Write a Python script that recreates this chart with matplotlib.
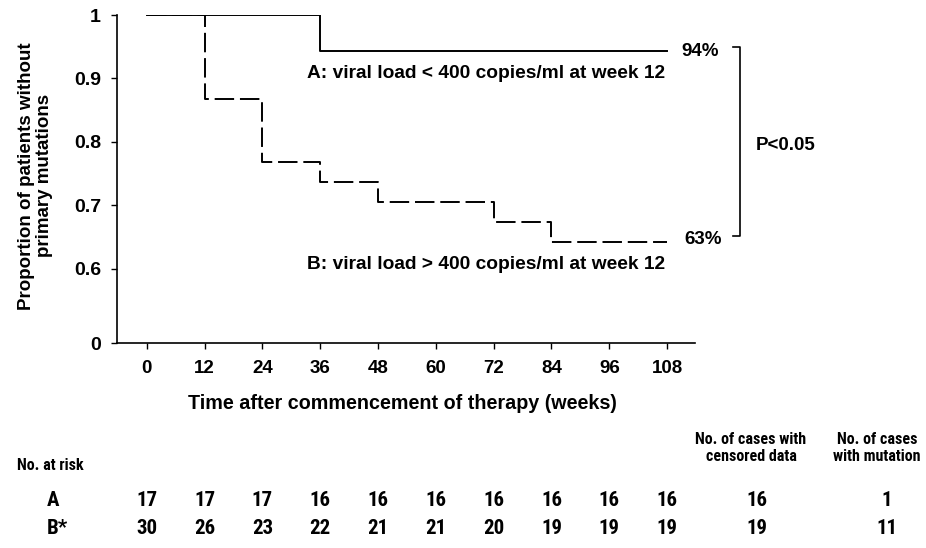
import matplotlib
matplotlib.use("Agg")
import matplotlib.pyplot as plt
from matplotlib import font_manager
import numpy as np

plt.rcParams['font.family'] = ['Liberation Sans', 'DejaVu Sans']
plt.rcParams['font.weight'] = 'bold'

# Kaplan-Meier step data (weeks, proportion)
weeks_a = [0, 36, 108]
surv_a = [1.0, 0.943, 0.943]
weeks_b = [0, 12, 24, 36, 48, 72, 84, 108]
surv_b = [1.0, 0.868, 0.768, 0.737, 0.706, 0.674, 0.642, 0.642]

xticks = [0, 12, 24, 36, 48, 60, 72, 84, 96, 108]
ytick_vals = [0.6, 0.7, 0.8, 0.9, 1.0]
ytick_labels = ['0.6', '0.7', '0.8', '0.9', '1']

risk_a = [17, 17, 17, 16, 16, 16, 16, 16, 16, 16]
risk_b = [30, 26, 23, 22, 21, 21, 20, 19, 19, 19]
censored = [16, 19]
mutation = [1, 11]

# broken y axis: 0 sits a bit below 0.6
y_zero_pos = 0.483

# narrow font for the risk table if one is around
names = {f.name for f in font_manager.fontManager.ttflist}
tab_font = ['Liberation Sans']
for cand in ['Liberation Sans Narrow', 'Roboto Condensed', 'Archivo Narrow']:
    if cand in names:
        tab_font = [cand, 'Liberation Sans']
        break

fig = plt.figure(figsize=(9.26, 5.48), dpi=100)
ax = fig.add_axes([117/926, 1-343/548, (695-117)/926, (343-15)/548])

ax.step(weeks_a, surv_a, where='post', color='black', lw=1.4)
ax.step(weeks_b, surv_b, where='post', color='black', lw=1.4,
        linestyle=(0, (10, 3)))

ax.set_xlim(-6.2, 113.8)
ax.set_ylim(y_zero_pos, 1.0)
ax.set_xticks(xticks)
ax.set_xticklabels([str(t) for t in xticks], fontsize=13.5, fontweight='bold')
ax.set_yticks([y_zero_pos] + ytick_vals)
ax.set_yticklabels(['0'] + ytick_labels, fontsize=14, fontweight='bold')
ax.tick_params(length=4, width=1, pad=8, colors='black')
ax.tick_params(axis='y', pad=7.5)
for s in ['top', 'right']:
    ax.spines[s].set_visible(False)
for s in ['left', 'bottom']:
    ax.spines[s].set_linewidth(1.2)

ax.set_xlabel('Time after commencement of therapy (weeks)', fontsize=14.2,
              fontweight='bold')
ax.xaxis.set_label_coords((402-117)/578, (343-394)/328)
ax.set_ylabel('Proportion of patients without\nprimary mutations', fontsize=13.5,
              fontweight='bold', linespacing=1.05)
ax.yaxis.set_label_coords((53-117)/578, 0.51)

# curve labels
fig.text(307/926, 1-73/548, 'A: viral load < 400 copies/ml at week 12',
         fontsize=13.8, fontweight='bold', va='center', ha='left')
fig.text(307/926, 1-265/548, 'B: viral load > 400 copies/ml at week 12',
         fontsize=13.8, fontweight='bold', va='center', ha='left')
fig.text(700/926, 1-51/548, '94%', fontsize=13.5, fontweight='bold',
         va='center', ha='center')
fig.text(703/926, 1-240/548, '63%', fontsize=13.5, fontweight='bold',
         va='center', ha='center')
fig.text(756/926, 1-145/548, 'P<0.05', fontsize=13.5, fontweight='bold',
         va='center', ha='left')
bx = np.array([733, 740, 740, 733]) / 926
by = 1 - np.array([47, 47, 236, 236]) / 548
fig.add_artist(plt.Line2D(bx, by, color='black', lw=1.2))

# number at risk table
fig.text(17/926, 1-465/548, 'No. at risk', fontsize=11.5, fontweight='bold',
         family=tab_font, va='center', ha='left')
fig.text(751/926, 1-448/548, 'No. of cases with\ncensored data', fontsize=11.5,
         fontweight='bold', family=tab_font, va='center', ha='center',
         linespacing=1.15)
fig.text(877/926, 1-448/548, 'No. of cases\nwith mutation', fontsize=11.5,
         fontweight='bold', family=tab_font, va='center', ha='center',
         linespacing=1.15)

row_y = [1-501/548, 1-529/548]
trans = matplotlib.transforms.blended_transform_factory(ax.transData, fig.transFigure)
for lab, vals, yy, cen, mut in zip(['A', 'B*'], [risk_a, risk_b], row_y,
                                   censored, mutation):
    fig.text(47/926, yy, lab, fontsize=15, fontweight='bold', family=tab_font,
             va='center', ha='left')
    for t, v in zip(xticks, vals):
        ax.text(t, yy, str(v), transform=trans, fontsize=15, fontweight='bold',
                family=tab_font, va='center', ha='center', clip_on=False)
    fig.text(757/926, yy, str(cen), fontsize=15, fontweight='bold',
             family=tab_font, va='center', ha='center')
    fig.text(887/926, yy, str(mut), fontsize=15, fontweight='bold',
             family=tab_font, va='center', ha='center')

fig.savefig('out.png', dpi=100)
